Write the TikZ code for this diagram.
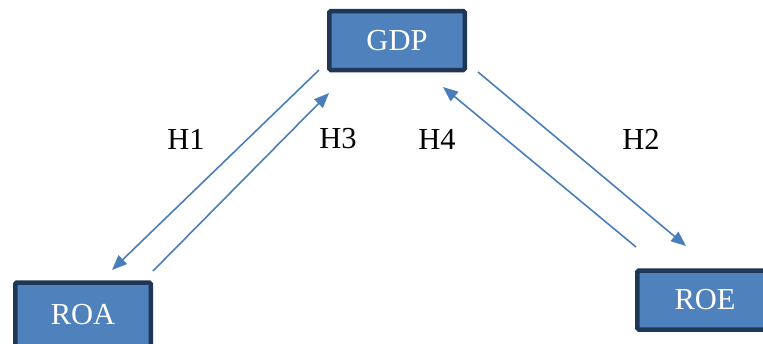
\documentclass[tikz,border=0pt]{standalone}
\usepackage{fontspec}
\setmainfont{Liberation Serif}
\usetikzlibrary{arrows.meta}
\definecolor{boxfill}{HTML}{4F81BD}
\definecolor{boxedge}{HTML}{1F3656}
\definecolor{arrowcol}{HTML}{4A7EBB}
\tikzset{
  varbox/.style={draw=boxedge, line width=4.5pt, fill=boxfill, rounded corners=1.5pt,
    minimum width=135.5pt, minimum height=59pt, inner sep=0pt,
    text=white, font=\fontsize{30.5}{33}\selectfont},
  hyparrow/.style={draw=arrowcol, line width=1.6pt,
    -{Triangle[length=15pt,width=12pt]}},
  hlabel/.style={font=\fontsize{30.5}{33}\selectfont, inner sep=0pt}
}
\begin{document}
\begin{tikzpicture}[x=1pt,y=-1pt]
\useasboundingbox (0,0) rectangle (763,343);
\clip (0,0) rectangle (763,343);
\node[varbox] (gdp) at (397,40.5) {GDP};
\node[varbox, minimum height=64pt] (roa) at (83,314.5) {ROA};
\node[varbox] (roe) at (705,300) {ROE};
\coordinate (h1s) at (319,70);
\coordinate (h1e) at (112,270);
\coordinate (h3s) at (153,271);
\coordinate (h3e) at (329,93);
\coordinate (h4s) at (636,247);
\coordinate (h4e) at (443,87);
\coordinate (h2s) at (478,72);
\coordinate (h2e) at (686,246);
\draw[hyparrow] (h1s) -- (h1e);
\draw[hyparrow] (h3s) -- (h3e);
\draw[hyparrow] (h4s) -- (h4e);
\draw[hyparrow] (h2s) -- (h2e);
\node[hlabel] (l1) at (186,139) {H1};
\node[hlabel] (l3) at (338,139) {H3};
\node[hlabel] (l4) at (437,139) {H4};
\node[hlabel] (l2) at (641,139) {H2};
\end{tikzpicture}
\end{document}
